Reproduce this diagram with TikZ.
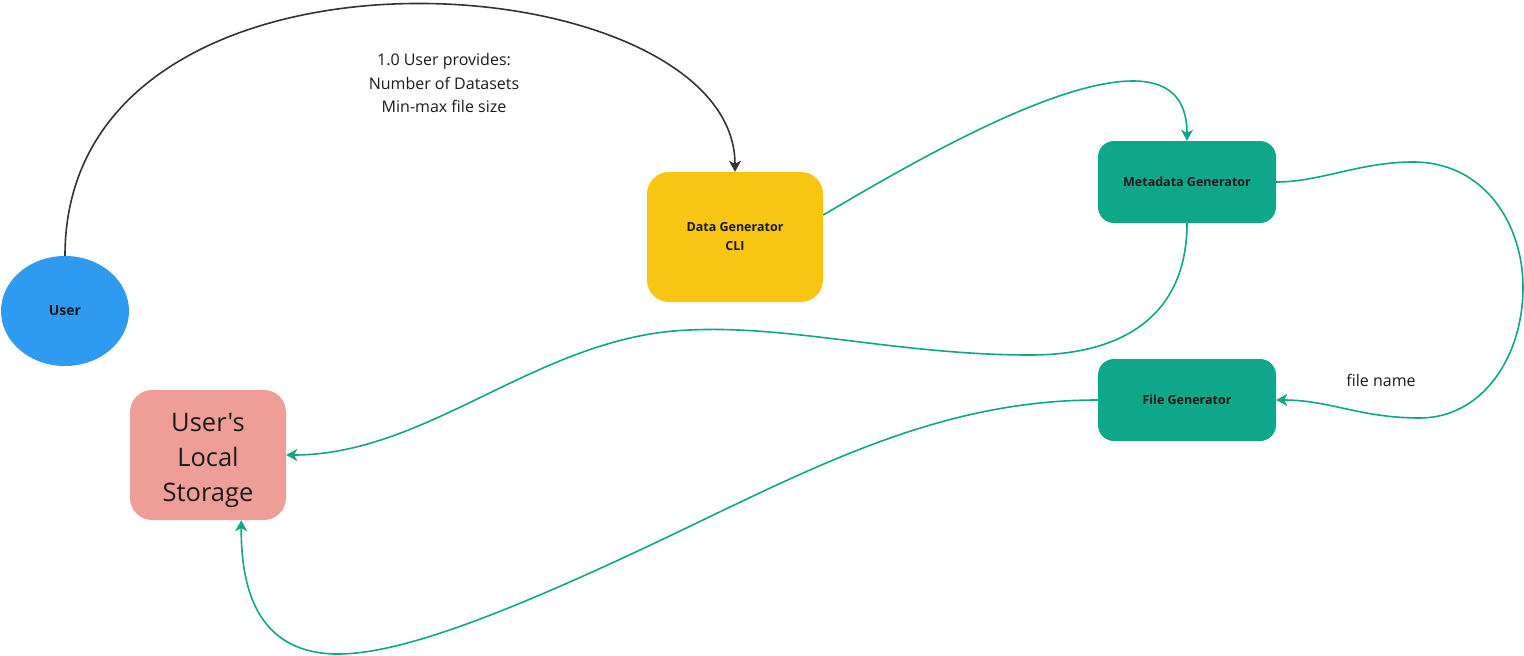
\documentclass[tikz,border=0pt]{standalone}
\usepackage{fontspec}
\setmainfont{Open Sans}[Ligatures=TeXOff]
\usetikzlibrary{shapes.geometric,arrows.meta}
\definecolor{userblue}{HTML}{2E9BF0}
\definecolor{cliyellow}{HTML}{F8C612}
\definecolor{genteal}{HTML}{0EA789}
\definecolor{storepink}{HTML}{EE9E96}
\definecolor{txt}{HTML}{1A1A1A}
\definecolor{linegray}{HTML}{333333}
\tikzset{
  boxbase/.style={rectangle, inner sep=0pt, text=txt, align=center},
  genbox/.style={boxbase, fill=genteal, minimum width=178pt, minimum height=82pt, rounded corners=16pt, font=\bfseries\fontsize{12.5}{19}\selectfont},
  clibox/.style={boxbase, fill=cliyellow, minimum width=176pt, minimum height=130pt, rounded corners=22pt, font=\bfseries\fontsize{12.5}{19}\selectfont},
  storebox/.style={boxbase, fill=storepink, minimum width=156pt, minimum height=130pt, rounded corners=22pt, font=\fontsize{25.5}{35}\selectfont},
  userell/.style={ellipse, fill=userblue, inner sep=0pt, minimum width=128pt, minimum height=110pt, text=txt, font=\bfseries\fontsize{14}{16}\selectfont},
  tealflow/.style={draw=genteal, line width=1.6pt, -{Stealth[length=11pt,width=12pt,inset=3pt]}},
  blackflow/.style={draw=linegray, line width=1.6pt, -{Stealth[length=11pt,width=12pt,inset=3pt]}},
  lbl/.style={text=txt, align=center, inner sep=0pt},
}
\begin{document}
\begin{tikzpicture}[x=1pt,y=-1pt]
\useasboundingbox (0,0) rectangle (1524,656);
\node[userell] (user) at (65,311) {User};
\node[storebox] (ls) at (208,455) {\rule{0pt}{30pt}User's\\Local\\Storage};
\node[clibox] (dg) at (735,237) {Data Generator\\CLI};
\node[genbox] (mg) at (1187,182) {Metadata Generator};
\node[genbox] (fg) at (1187,400) {File Generator};

\node[lbl, font=\fontsize{16}{23.5}\selectfont] (lab1) at (444,83) {1.0 User provides:\\Number of Datasets\\Min-max file size};
\node[lbl, font=\fontsize{16}{20}\selectfont] (lab2) at (1381,380) {file name};

\draw[blackflow] (user.north) .. controls (65,-90) and (735,-40) .. (dg.north);
\draw[tealflow] (dg.14) .. controls (900,170) and (1050,81) .. (1133,81)
  .. controls (1175,81) and (1187,105) .. (mg.north);
\draw[tealflow] (mg.east) .. controls (1320,182) and (1360,162) .. (1413,162)
  .. controls (1485,162) and (1523,225) .. (1523,287)
  .. controls (1523,360) and (1480,418) .. (1420,418)
  .. controls (1360,418) and (1330,400) .. (fg.east);
\draw[tealflow] (mg.south) .. controls (1187,310) and (1130,355) .. (1030,355)
  .. controls (900,355) and (790,325) .. (690,330)
  .. controls (540,335) and (430,455) .. (ls.east);
\draw[tealflow] (fg.west) .. controls (930,400) and (800,475) .. (640,550)
  .. controls (480,625) and (390,655) .. (335,654)
  .. controls (255,652) and (241,585) .. (ls.-63);
\end{tikzpicture}
\end{document}
